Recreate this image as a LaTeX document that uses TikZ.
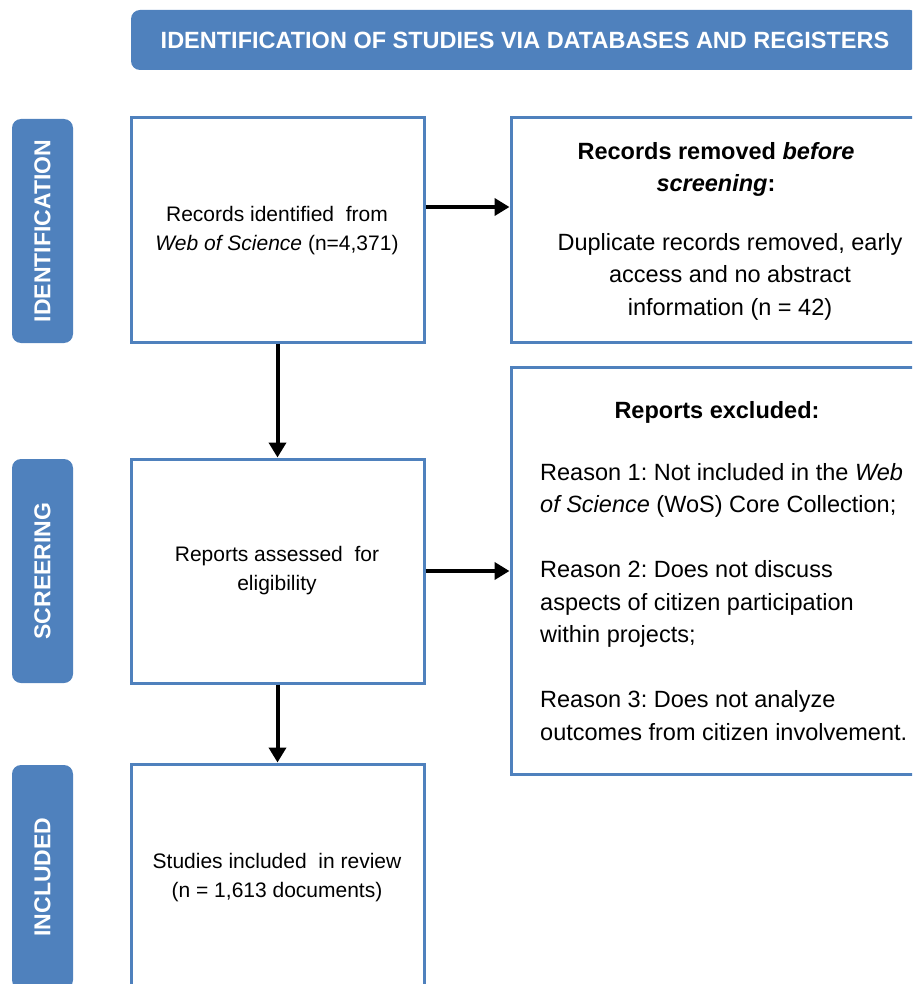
\documentclass[tikz,border=0pt]{standalone}
\usepackage{fontspec}
\setmainfont{Liberation Sans}
\usetikzlibrary{arrows.meta}
\definecolor{pblue}{HTML}{4F81BD}
\frenchspacing
\begin{document}
\frenchspacing
\begin{tikzpicture}[x=1pt,y=-1pt,
  box/.style={draw=pblue, line width=3pt, fill=white, inner sep=0pt},
  band/.style={fill=pblue, rounded corners=9pt, inner sep=0pt},
  bandtxt/.style={text=white, font=\fontsize{23}{25}\selectfont\bfseries, rotate=90, inner sep=0pt},
  smalltxt/.style={font=\fontsize{21}{29}\selectfont, align=center, inner sep=0pt},
  bigtxt/.style={font=\fontsize{23.5}{32.5}\selectfont, inner sep=0pt},
  flow/.style={line width=4pt, -{Triangle[length=15pt,width=17pt]}}]
\useasboundingbox (0,0) rectangle (912,984);
\begin{scope}
\clip (0,0) rectangle (912,984);
% header
\node[band, minimum width=788, minimum height=60] (hdr) at (525,40) {};
\node[text=white, font=\fontsize{23.5}{26}\selectfont\bfseries, inner sep=0pt] (hdrt) at (525,40) {IDENTIFICATION OF STUDIES VIA DATABASES AND REGISTERS};
% side bands
\node[band, minimum width=61, minimum height=224] (l1) at (42.5,231) {};
\node[bandtxt] (l1t) at (42.5,231) {IDENTIFICATION};
\node[band, minimum width=61, minimum height=224] (l2) at (42.5,571) {};
\node[bandtxt] (l2t) at (42.5,571) {SCREERING};
\node[band, minimum width=61, minimum height=224] (l3) at (42.5,877) {};
\node[bandtxt] (l3t) at (42.5,877) {INCLUDED};
% boxes
\node[box, minimum width=293, minimum height=224] (a) at (277.5,230) {};
\node[box, minimum width=412, minimum height=224] (b) at (717,230) {};
\node[box, minimum width=293, minimum height=224] (c) at (277.5,571) {};
\node[box, minimum width=412, minimum height=407] (d) at (717,570.5) {};
\node[box, minimum width=293, minimum height=224] (e) at (277.5,876) {};
% texts
\node[smalltxt] (at) at (277,230.5) {Records identified\ \ from\\\textit{Web of Science} (n=4,371)};
\node[bigtxt, align=center, font=\fontsize{23.5}{32}\selectfont\bfseries] (bt1) at (716,169) {Records removed \textit{before}\\\textit{screening}:};
\node[bigtxt, align=center] (bt2) at (730,276.5) {Duplicate records removed, early\\access and no abstract\\information (n = 42)};
\node[smalltxt] (ct) at (277,570.5) {Reports assessed\ \ for\\eligibility};
\node[bigtxt, font=\fontsize{23.5}{32}\selectfont\bfseries] (dt1) at (717,412) {Reports excluded:};
\node[bigtxt, align=left, anchor=west] (dt2) at (540,602) {Reason 1: Not included in the \textit{Web}\\\textit{of Science} (WoS) Core Collection;\\[32.5pt]Reason 2: Does not discuss\\aspects of citizen participation\\within projects;\\[32.5pt]Reason 3: Does not analyze\\outcomes from citizen involvement.};
\node[smalltxt] (et) at (277,877.5) {Studies included\ \ in review\\(n = 1,613 documents)};
% connectors
\coordinate (ay) at (0,207);
\draw[flow] (a.east |- ay) -- (b.west |- ay);
\draw[flow] (a.south) -- (c.north);
\draw[flow] (c.east) -- (c.east -| d.west);
\draw[flow] (c.south) -- (e.north);
\end{scope}
\end{tikzpicture}
\end{document}
